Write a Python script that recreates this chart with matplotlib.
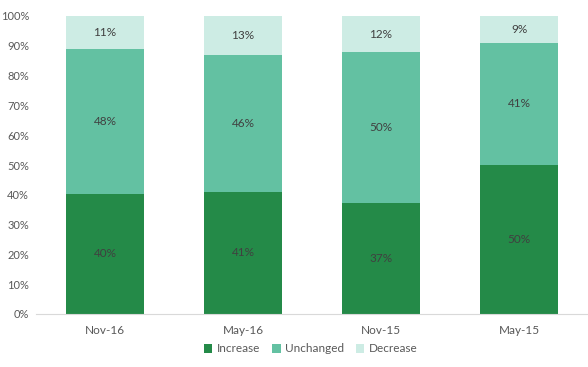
import numpy as np
import matplotlib.pyplot as plt
from matplotlib.ticker import PercentFormatter

plt.rcParams['font.family'] = ['Lato', 'DejaVu Sans']

periods = ['Nov-16', 'May-16', 'Nov-15', 'May-15']
increase = np.array([40, 41, 37, 50])
unchanged = np.array([48, 46, 50, 41])
decrease = np.array([11, 13, 12, 9])

series = [('Increase', increase, '#248A48'),
          ('Unchanged', unchanged, '#63C1A2'),
          ('Decrease', decrease, '#CDECE4')]

total = increase + unchanged + decrease

fig = plt.figure(figsize=(5.88, 3.67), dpi=100)
ax = fig.add_axes([36 / 588, 53 / 367, 552 / 588, 298 / 367])

x = np.arange(len(periods))
bottom = np.zeros(len(periods))
for name, vals, color in series:
    share = vals / total * 100
    ax.bar(x, share, 0.57, bottom=bottom, color=color, label=name)
    for xi, b, s, v in zip(x, bottom, share, vals):
        ax.text(xi, b + s / 2, f'{v}%', ha='center', va='center',
                fontsize=8.5, color='#404040')
    bottom += share

ax.set_xlim(-0.5, 3.5)
ax.set_ylim(0, 100)
ax.set_yticks(np.arange(0, 101, 10))
ax.yaxis.set_major_formatter(PercentFormatter(decimals=0))
ax.set_xticks(x)
ax.set_xticklabels(periods)
ax.tick_params(axis='both', length=0, labelsize=8.5, labelcolor='#595959')
ax.tick_params(axis='y', pad=5, labelsize=8)
ax.tick_params(axis='x', pad=8)
for side in ['top', 'right', 'left']:
    ax.spines[side].set_visible(False)
ax.spines['bottom'].set_color('#D9D9D9')

fig.legend(loc='center', bbox_to_anchor=(311 / 588, 1 - 349 / 367), ncol=3,
           frameon=False, fontsize=8.5, handlelength=0.7, handleheight=0.7,
           handletextpad=0.4, columnspacing=1.0, labelcolor='#595959')

fig.savefig('out.png', dpi=100)
